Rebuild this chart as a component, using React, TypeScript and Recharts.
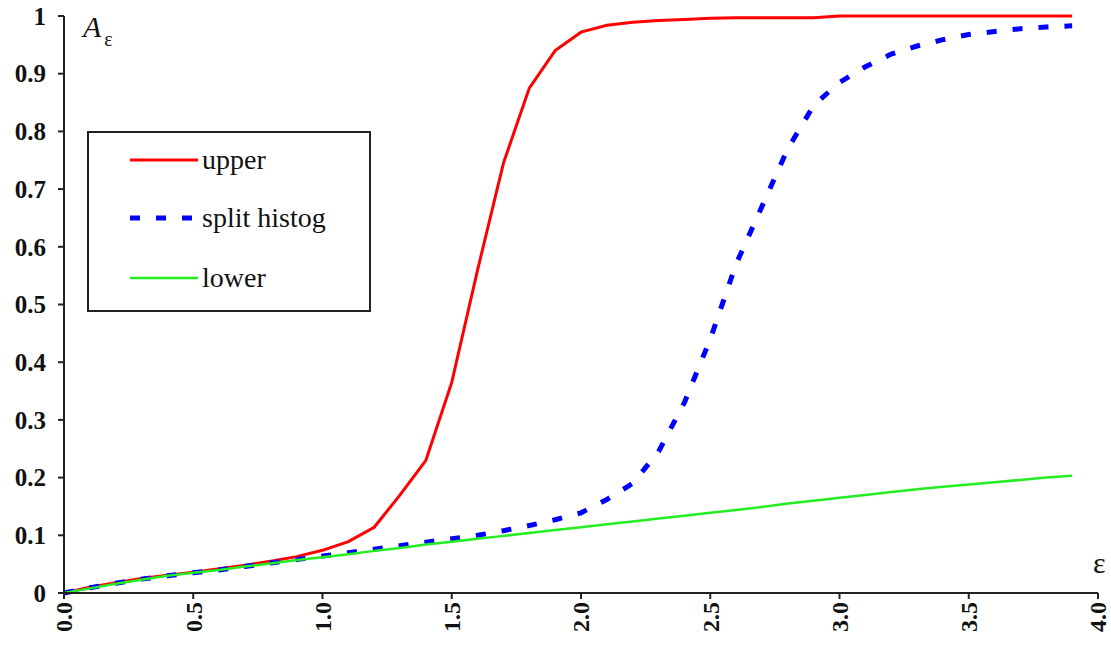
import { LineChart, Line, XAxis, YAxis } from "recharts";

// epsilon grid (0.0 .. 3.9)
const eps = [
  0.0, 0.1, 0.2, 0.3, 0.4, 0.5, 0.6, 0.7, 0.8, 0.9, 1.0, 1.1, 1.2, 1.3, 1.4,
  1.5, 1.6, 1.7, 1.8, 1.9, 2.0, 2.1, 2.2, 2.3, 2.4, 2.5, 2.6, 2.7, 2.8, 2.9,
  3.0, 3.1, 3.2, 3.3, 3.4, 3.5, 3.6, 3.7, 3.8, 3.9,
];

const upper = [
  0, 0.01, 0.018, 0.025, 0.031, 0.036, 0.042, 0.048, 0.055, 0.063, 0.074,
  0.089, 0.114, 0.17, 0.23, 0.365, 0.56, 0.745, 0.875, 0.94, 0.972, 0.984,
  0.989, 0.992, 0.994, 0.996, 0.997, 0.997, 0.997, 0.997, 1.0, 1.0, 1.0, 1.0,
  1.0, 1.0, 1.0, 1.0, 1.0, 1.0,
];

const splitHistog = [
  0, 0.009, 0.017, 0.024, 0.03, 0.035, 0.04, 0.046, 0.052, 0.058, 0.064, 0.07,
  0.076, 0.082, 0.088, 0.094, 0.1, 0.108, 0.117, 0.127, 0.139, 0.162, 0.19,
  0.245, 0.33, 0.44, 0.57, 0.67, 0.77, 0.845, 0.885, 0.912, 0.934, 0.948,
  0.959, 0.968, 0.973, 0.978, 0.981, 0.983,
];

const lower = [
  0, 0.008, 0.016, 0.023, 0.03, 0.035, 0.04, 0.046, 0.051, 0.057, 0.062,
  0.067, 0.073, 0.078, 0.084, 0.089, 0.094, 0.099, 0.104, 0.109, 0.114, 0.119,
  0.124, 0.129, 0.134, 0.139, 0.144, 0.149, 0.155, 0.16, 0.165, 0.17, 0.175,
  0.18, 0.184, 0.188, 0.192, 0.196, 0.2, 0.203,
];

const xTicks = [0, 0.5, 1, 1.5, 2, 2.5, 3, 3.5, 4];
const yTicks = [0, 0.1, 0.2, 0.3, 0.4, 0.5, 0.6, 0.7, 0.8, 0.9, 1];

const series = [
  { key: "upper", name: "upper", color: "#ff0000", width: 3, dash: undefined },
  { key: "split", name: "split histog", color: "#0000ff", width: 5, dash: "10 16" },
  { key: "lower", name: "lower", color: "#22ee22", width: 2.5, dash: undefined },
];

const data = eps.map((e, i) => ({
  eps: e,
  upper: upper[i],
  split: splitHistog[i],
  lower: lower[i],
}));

const SERIF = "Liberation Serif, Times New Roman, DejaVu Serif, serif";

const XTick = ({ x, y, payload }: any) => (
  <text
    x={x}
    y={y}
    dy="0.35em"
    transform={`rotate(-90 ${x} ${y})`}
    textAnchor="end"
    style={{ fontFamily: SERIF, fontWeight: "bold", fontSize: 24 }}
    fill="#111"
  >
    {Number(payload.value).toFixed(1)}
  </text>
);

const YTick = ({ x, y, payload }: any) => {
  const v = payload.value;
  const label = v === 0 ? "0" : v === 1 ? "1" : v.toFixed(1);
  return (
    <text
      x={x}
      y={y}
      dy="0.35em"
      textAnchor="end"
      style={{ fontFamily: SERIF, fontWeight: "bold", fontSize: 25 }}
      fill="#111"
    >
      {label}
    </text>
  );
};

// legend drawn as an overlay box so it does not take space from the plot
const LegendBox = () => (
  <div
    style={{
      position: "absolute",
      left: 87,
      top: 131,
      width: 280,
      height: 177,
      border: "2px solid #222",
      background: "#fff",
      fontFamily: SERIF,
      fontSize: 28,
      color: "#111",
    }}
  >
    {series.map((s, i) => (
      <div
        key={s.key}
        style={{ position: "absolute", left: 41, top: [27, 85, 145][i] - 18, height: 36, display: "flex", alignItems: "center", whiteSpace: "nowrap" }}
      >
        <svg width={68} height={8}>
          <line x1={0} y1={4} x2={68} y2={4} stroke={s.color} strokeWidth={s.width} strokeDasharray={s.dash} />
        </svg>
        <span style={{ marginLeft: 4, lineHeight: "36px" }}>{s.name}</span>
      </div>
    ))}
  </div>
);

export default function App() {
  return (
    <div style={{ position: "absolute", left: 0, top: 0, width: 1111, height: 647, background: "#fff" }}>
      <LineChart
        width={1111}
        height={647}
        data={data}
        margin={{ top: 16, right: 13, left: 0, bottom: 0 }}
      >
        <XAxis
          dataKey="eps"
          type="number"
          domain={[0, 4]}
          ticks={xTicks}
          height={54}
          tick={<XTick />}
          tickSize={6}
          tickMargin={3}
          axisLine={{ stroke: "#222", strokeWidth: 2 }}
          tickLine={{ stroke: "#222", strokeWidth: 2 }}
          interval={0}
        />
        <YAxis
          type="number"
          domain={[0, 1]}
          ticks={yTicks}
          width={64}
          tick={<YTick />}
          tickSize={6}
          tickMargin={12}
          axisLine={{ stroke: "#222", strokeWidth: 2 }}
          tickLine={{ stroke: "#222", strokeWidth: 2 }}
          interval={0}
        />
        {series.map((s) => (
          <Line
            key={s.key}
            type="linear"
            dataKey={s.key}
            name={s.name}
            stroke={s.color}
            strokeWidth={s.width}
            strokeDasharray={s.dash}
            dot={false}
            isAnimationActive={false}
          />
        ))}
      </LineChart>
      <LegendBox />
      <div style={{ position: "absolute", left: 83, top: 10, fontFamily: SERIF, fontStyle: "italic", fontSize: 30, color: "#111" }}>
        A<span style={{ fontStyle: "normal", fontSize: 20, position: "relative", top: 9, marginLeft: 3 }}>ε</span>
      </div>
      <div style={{ position: "absolute", left: 1093, top: 546, fontFamily: SERIF, fontSize: 30, color: "#111" }}>ε</div>
    </div>
  );
}
